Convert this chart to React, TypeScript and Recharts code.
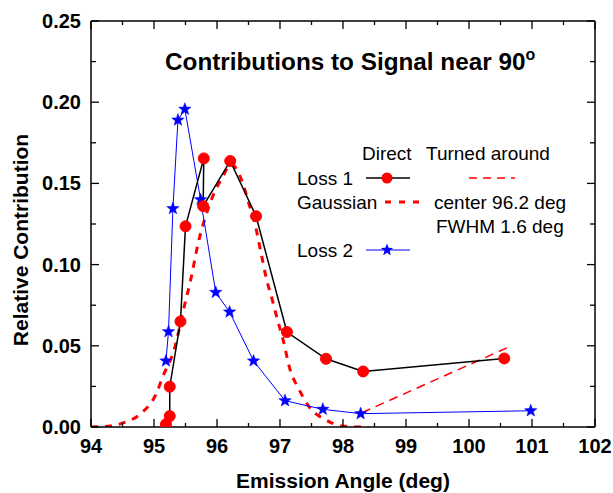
import React from "react"
import { ComposedChart, Line, XAxis, YAxis } from "recharts"

// values
const loss1X = [95.19, 95.25, 95.25, 95.42, 95.5, 95.79, 95.78, 96.21, 96.62, 97.11, 97.73, 98.32, 100.56]
const loss1Y = [0.0017, 0.0067, 0.0248, 0.065, 0.1236, 0.1654, 0.136, 0.1638, 0.1298, 0.0585, 0.042, 0.0342, 0.0422]

const loss2X = [95.19, 95.23, 95.3, 95.38, 95.49, 95.74, 95.98, 96.2, 96.58, 97.08, 97.68, 98.28, 100.98]
const loss2Y = [0.0407, 0.0587, 0.1345, 0.189, 0.1957, 0.14, 0.0829, 0.0708, 0.0407, 0.0162, 0.0109, 0.0082, 0.01]

const gaussX = [
  94.0, 94.3, 94.51, 94.8, 95.03, 95.14, 95.33, 95.46, 95.59, 95.7, 95.83, 95.96, 96.09, 96.22, 96.41, 96.51,
  96.59, 96.7, 96.78, 96.88, 96.96, 97.04, 97.17, 97.29, 97.46, 97.73, 97.98, 98.25, 98.4,
]
const gaussY = [
  0, 0.0006, 0.0025, 0.0086, 0.02, 0.031, 0.049, 0.071, 0.092, 0.113, 0.131, 0.1445, 0.154, 0.162, 0.15, 0.137,
  0.127, 0.107, 0.092, 0.078, 0.066, 0.055, 0.034, 0.024, 0.0125, 0.0043, 0.0006, 0, 0,
]

const turnedX = [98.3, 100.6]
const turnedY = [0.0088, 0.0487]

const xTicks = [94, 94.5, 95, 95.5, 96, 96.5, 97, 97.5, 98, 98.5, 99, 99.5, 100, 100.5, 101, 101.5, 102]
const yTicks = [0, 0.025, 0.05, 0.075, 0.1, 0.125, 0.15, 0.175, 0.2, 0.225, 0.25]

const zip = (xs: number[], ys: number[]) => xs.map((x, i) => ({ x, y: ys[i] }))

const loss1 = zip(loss1X, loss1Y)
const loss2 = zip(loss2X, loss2Y)
const gauss = zip(gaussX, gaussY)
const turned = zip(turnedX, turnedY)

const FONT = "'Liberation Sans', Arial, sans-serif"
const RED = "#ff0000"
const BLUE = "#0000ff"

const isMajorX = (v: number) => Math.abs(v - Math.round(v)) < 1e-6
const isMajorY = (v: number) => Math.abs(v * 20 - Math.round(v * 20)) < 1e-6

const starPath = (cx: number, cy: number, ro: number, ri: number) => {
  let d = ""
  for (let i = 0; i < 10; i++) {
    const r = i % 2 === 0 ? ro : ri
    const a = -Math.PI / 2 + (i * Math.PI) / 5
    d += (i === 0 ? "M" : "L") + (cx + r * Math.cos(a)).toFixed(2) + "," + (cy + r * Math.sin(a)).toFixed(2)
  }
  return d + "Z"
}

const Star = (props: any) => {
  const { cx, cy, index } = props
  if (cx == null || cy == null) return <g key={index} />
  return <path key={index} d={starPath(cx, cy, 6.5, 2.7)} fill={BLUE} stroke={BLUE} strokeWidth={0.5} />
}

const BottomTick = (props: any) => {
  const { x, y, payload } = props
  const major = isMajorX(payload.value)
  return (
    <g>
      <line x1={x} y1={y} x2={x} y2={y - (major ? 8 : 4)} stroke="#000" strokeWidth={1.3} />
      {major && (
        <text x={x} y={y + 26} textAnchor="middle" fontFamily={FONT} fontWeight="bold" fontSize={20} fill="#000">
          {payload.value}
        </text>
      )}
    </g>
  )
}

const TopTick = (props: any) => {
  const { x, y, payload } = props
  const major = isMajorX(payload.value)
  return <line x1={x} y1={y} x2={x} y2={y + (major ? 8 : 4)} stroke="#000" strokeWidth={1.3} />
}

const LeftTick = (props: any) => {
  const { x, y, payload } = props
  const major = isMajorY(payload.value)
  return (
    <g>
      <line x1={x} y1={y} x2={x + (major ? 8 : 5)} y2={y} stroke="#000" strokeWidth={1.3} />
      {major && (
        <text x={x - 10} y={y + 7} textAnchor="end" fontFamily={FONT} fontWeight="bold" fontSize={20} fill="#000">
          {payload.value.toFixed(2)}
        </text>
      )}
    </g>
  )
}

const RightTick = (props: any) => {
  const { x, y, payload } = props
  const major = isMajorY(payload.value)
  return <line x1={x} y1={y} x2={x - (major ? 8 : 5)} y2={y} stroke="#000" strokeWidth={1.3} />
}

const axisLine = { stroke: "#000", strokeWidth: 1.5 }

export default function App() {
  return (
    <div style={{ position: "absolute", left: 0, top: 0, width: 613, height: 493, background: "#fff" }}>
      <ComposedChart width={613} height={493} margin={{ top: 20, right: 17, bottom: 65, left: 90 }}>
        <XAxis
          xAxisId="b"
          type="number"
          dataKey="x"
          domain={[94, 102]}
          allowDataOverflow
          ticks={xTicks}
          interval={0}
          height={1}
          tickSize={0}
          tickMargin={0}
          tickLine={false}
          tick={<BottomTick />}
          axisLine={axisLine}
        />
        <XAxis
          xAxisId="t"
          orientation="top"
          type="number"
          dataKey="x"
          domain={[94, 102]}
          allowDataOverflow
          ticks={xTicks}
          interval={0}
          height={1}
          tickSize={0}
          tickMargin={0}
          tickLine={false}
          tick={<TopTick />}
          axisLine={axisLine}
        />
        <YAxis
          yAxisId="l"
          type="number"
          domain={[0, 0.25]}
          allowDataOverflow
          ticks={yTicks}
          interval={0}
          width={1}
          tickSize={0}
          tickMargin={0}
          tickLine={false}
          tick={<LeftTick />}
          axisLine={axisLine}
        />
        <YAxis
          yAxisId="r"
          orientation="right"
          type="number"
          domain={[0, 0.25]}
          allowDataOverflow
          ticks={yTicks}
          interval={0}
          width={1}
          tickSize={0}
          tickMargin={0}
          tickLine={false}
          tick={<RightTick />}
          axisLine={axisLine}
        />
        <Line
          xAxisId="b"
          yAxisId="l"
          data={gauss}
          dataKey="y"
          type="monotone"
          stroke={RED}
          strokeWidth={3}
          strokeDasharray="7 7"
          dot={false}
          isAnimationActive={false}
        />
        <Line
          xAxisId="b"
          yAxisId="l"
          data={turned}
          dataKey="y"
          type="linear"
          stroke={RED}
          strokeWidth={1.5}
          strokeDasharray="9 6"
          dot={false}
          isAnimationActive={false}
        />
        <Line
          xAxisId="b"
          yAxisId="l"
          data={loss2}
          dataKey="y"
          type="linear"
          stroke={BLUE}
          strokeWidth={1}
          dot={<Star />}
          isAnimationActive={false}
        />
        <Line
          xAxisId="b"
          yAxisId="l"
          data={loss1}
          dataKey="y"
          type="linear"
          stroke="#000"
          strokeWidth={1.5}
          dot={{ r: 5.5, fill: RED, stroke: RED, strokeWidth: 1 }}
          isAnimationActive={false}
        />
      </ComposedChart>
      <svg
        width={613}
        height={493}
        style={{ position: "absolute", left: 0, top: 0, pointerEvents: "none" }}
        fontFamily={FONT}
      >
        <text x={165} y={70} fontSize={24.3} fontWeight="bold" fill="#000">
          Contributions to Signal near 90
          <tspan fontSize={16} dy={-10}>o</tspan>
        </text>
        <text x={343} y={488} fontSize={21} fontWeight="bold" textAnchor="middle" fill="#000">
          Emission Angle (deg)
        </text>
        <text
          x={0}
          y={0}
          transform="translate(28,240) rotate(-90)"
          fontSize={21}
          fontWeight="bold"
          textAnchor="middle"
          fill="#000"
        >
          Relative Contribution
        </text>

        <g fontSize={19} fill="#000">
          <text x={362} y={160}>Direct</text>
          <text x={426} y={160}>Turned around</text>
          <text x={297} y={185}>Loss 1</text>
          <text x={297} y={209}>Gaussian</text>
          <text x={434} y={209}>center 96.2 deg</text>
          <text x={436} y={233}>FWHM 1.6 deg</text>
          <text x={297} y={257}>Loss 2</text>
        </g>
        <line x1={366} y1={178} x2={410} y2={178} stroke="#000" strokeWidth={1.5} />
        <circle cx={387} cy={178} r={5.5} fill={RED} />
        <line x1={469} y1={178} x2={515} y2={178} stroke={RED} strokeWidth={1.5} strokeDasharray="8 6" />
        <line x1={385} y1={202} x2={426} y2={202} stroke={RED} strokeWidth={3} strokeDasharray="6 8" />
        <line x1={366} y1={250} x2={410} y2={250} stroke={BLUE} strokeWidth={1} />
        <path d={starPath(387, 250, 6.5, 2.7)} fill={BLUE} />
      </svg>
    </div>
  )
}
